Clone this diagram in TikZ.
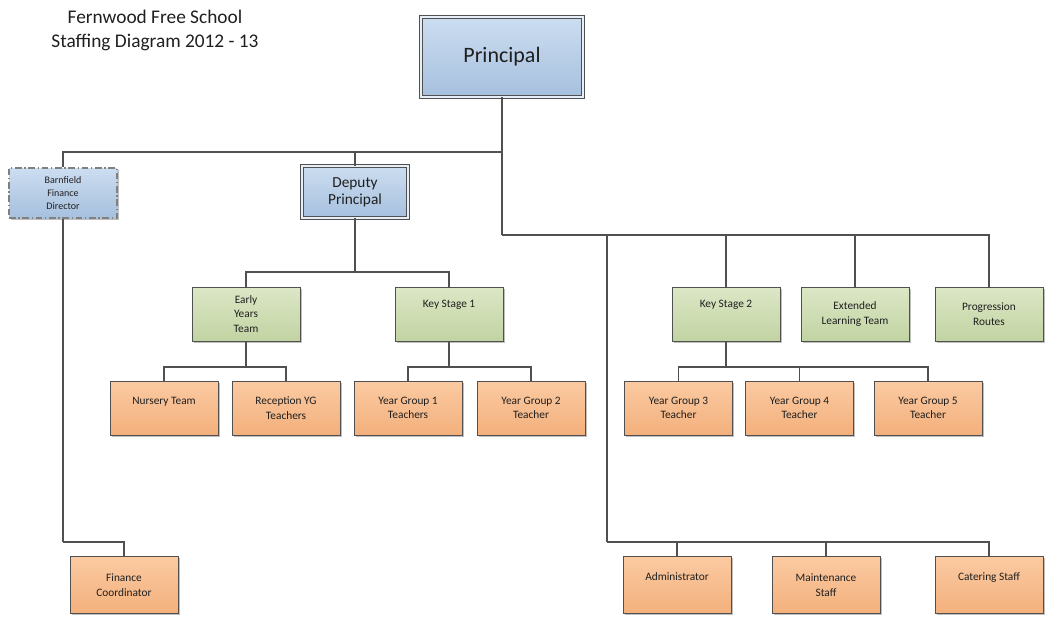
\documentclass[tikz,border=0pt]{standalone}
\usepackage{fontspec}
\setmainfont{Carlito}
\usetikzlibrary{shadows}

\definecolor{boxline}{RGB}{80,80,80}
\definecolor{bluetop}{RGB}{204,221,240}
\definecolor{bluebot}{RGB}{166,192,222}
\definecolor{greentop}{RGB}{220,231,198}
\definecolor{greenbot}{RGB}{194,211,162}
\definecolor{orangetop}{RGB}{251,202,162}
\definecolor{orangebot}{RGB}{243,176,124}

\begin{document}
\begin{tikzpicture}[x=0.75pt,y=-0.75pt]

\tikzstyle{every node}=[font=\fontsize{8.5}{11}\selectfont, text=black!88]
\tikzstyle{card}=[draw=boxline, line width=0.6pt, align=center,
	minimum width=81pt, minimum height=40.5pt, inner sep=2pt,
	drop shadow={shadow xshift=1.2pt, shadow yshift=-1.2pt, fill=black, opacity=0.25}]
\tikzstyle{lead}=[card, top color=bluetop, bottom color=bluebot]
\tikzstyle{team}=[card, top color=greentop, bottom color=greenbot]
\tikzstyle{staff}=[card, top color=orangetop, bottom color=orangebot]
\tikzstyle{topline}=[text depth=16pt]
\tikzstyle{link}=[draw=boxline, line width=0.8pt]

\useasboundingbox (0,0) rectangle (1049,619);

\node (title) at (155,30) [align=center, font=\fontsize{14.5}{18}\selectfont]
	{Fernwood Free School\\Staffing Diagram 2012 - 13};

% senior staff
\node (principal) at (502,57) [lead, minimum width=121.5pt, minimum height=60pt,
	double=bluetop!50!white, double distance=1.5pt,
	font=\fontsize{16.5}{20}\selectfont] {Principal};
\node (barn) at (63,193) [lead, draw=gray, line width=0.9pt,
	dash pattern=on 5pt off 2pt on 1pt off 2pt, minimum height=37.5pt,
	font=\fontsize{7.5}{10}\selectfont] {Barnfield\\Finance\\Director};
\node (deputy) at (355,192) [lead, minimum width=79.5pt, minimum height=39pt,
	double=bluetop!50!white, double distance=1.2pt,
	font=\fontsize{11.5}{13}\selectfont] {Deputy\\Principal};

% teams
\node (early) at (246,314) [team] {Early\\Years\\Team};
\node (ks1) at (449,314) [team, topline] {Key Stage 1};
\node (ks2) at (726,314) [team, topline] {Key Stage 2};
\node (ext) at (855,314) [team] {Extended\\Learning Team};
\node (progress) at (989,314) [team] {Progression\\Routes};

% teachers
\node (nursery) at (164,408) [staff, topline, text depth=11pt] {Nursery Team};
\node (reception) at (286,408) [staff] {Reception YG\\Teachers};
\node (yg1) at (408,408) [staff] {Year Group 1\\Teachers};
\node (yg2) at (531,408) [staff] {Year Group 2\\Teacher};
\node (yg3) at (678.5,408) [staff] {Year Group 3\\Teacher};
\node (yg4) at (799.5,408) [staff] {Year Group 4\\Teacher};
\node (yg5) at (928,408) [staff] {Year Group 5\\Teacher};

% support staff
\node (fincoord) at (124,585) [staff, minimum height=42.75pt] {Finance\\Coordinator};
\node (admin) at (677,585) [staff, minimum height=42.75pt, text depth=13pt] {Administrator};
\node (maint) at (826,585) [staff, minimum height=42.75pt] {Maintenance\\Staff};
\node (cater) at (989,585) [staff, minimum height=42.75pt, text depth=13pt] {Catering Staff};

% junctions
\coordinate (hub) at (502,152);
\coordinate (east) at (502,235);
\coordinate (office) at (607,542);
\coordinate (dep) at (355,272);
\coordinate (eyt) at (246,367);
\coordinate (ksa) at (449,367);
\coordinate (ksb) at (726,367);
\coordinate (fin) at (63,542);

\draw[link] (principal.south) -- (east);
\draw[link] (hub) -| (barn.north);
\draw[link] (hub) -| (deputy.north);
\draw[link] (east) -| (progress.north);
\draw[link] (east) -| (ext.north);
\draw[link] (east) -| (ks2.north);
\draw[link] (east) -| (office);
\draw[link] (office) -| (admin.north);
\draw[link] (office) -| (maint.north);
\draw[link] (office) -| (cater.north);

\draw[link] (deputy.south) -- (dep);
\draw[link] (dep) -| (early.north);
\draw[link] (dep) -| (ks1.north);

\draw[link] (early.south) -- (eyt);
\draw[link] (eyt) -| (nursery.north);
\draw[link] (eyt) -| (reception.north);

\draw[link] (ks1.south) -- (ksa);
\draw[link] (ksa) -| (yg1.north);
\draw[link] (ksa) -| (yg2.north);

\draw[link] (ks2.south) -- (ksb);
\draw[link] (ksb) -| (yg3.north);
\draw[link] (ksb) -| (yg4.north);
\draw[link] (ksb) -| (yg5.north);

\draw[link] (barn.south) -- (fin);
\draw[link] (fin) -| (fincoord.north);

\end{tikzpicture}
\end{document}
